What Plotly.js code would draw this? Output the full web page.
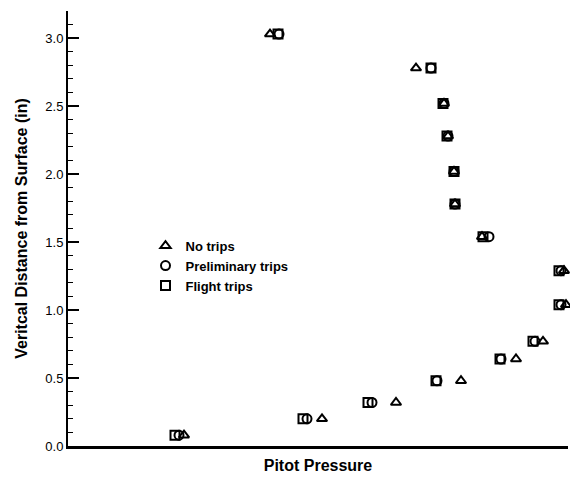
<!DOCTYPE html>
<html>
<head>
<meta charset="utf-8">
<script src="https://cdn.plot.ly/plotly-3.0.1.min.js"></script>
<style>html,body{margin:0;padding:0;background:#fff;}#chart{width:570px;height:479px;}</style>
</head>
<body>
<div id="chart"></div>
<script>
// Heights (in)
const heights = [0.08, 0.20, 0.32, 0.48, 0.64, 0.77, 1.04, 1.29, 1.54, 1.78, 2.02, 2.28, 2.52, 2.78, 3.03];
// Pitot pressure (arbitrary units)
const noTrips      = [2.32, 5.08, 6.56, 7.86, 8.96, 9.50, 9.96, 9.92, 8.28, 7.74, 7.72, 7.60, 7.52, 6.96, 4.04];
const prelimTrips  = [2.22, 4.78, 6.08, 7.38, 8.66, 9.34, 9.86, 9.86, 8.42, 7.74, 7.72, 7.60, 7.52, 7.26, 4.22];
const flightTrips  = [2.14, 4.70, 6.00, 7.36, 8.64, 9.30, 9.82, 9.82, 8.30, 7.74, 7.72, 7.58, 7.50, 7.26, 4.20];
const seriesNames = ['No trips', 'Preliminary trips', 'Flight trips'];
const yTickVals = [0.0, 0.5, 1.0, 1.5, 2.0, 2.5, 3.0];
const yTickText = ['0.0', '0.5', '1.0', '1.5', '2.0', '2.5', '3.0'];

const mk = (sym) => ({symbol: sym, size: 9, color: '#000', line: {color: '#000', width: 2}});
const traces = [
  {x: noTrips, y: heights, name: seriesNames[0], mode: 'markers', type: 'scatter', marker: mk('triangle-up-open'), cliponaxis: false},
  {x: prelimTrips, y: heights, name: seriesNames[1], mode: 'markers', type: 'scatter', marker: mk('circle-open'), cliponaxis: false},
  {x: flightTrips, y: heights, name: seriesNames[2], mode: 'markers', type: 'scatter', marker: mk('square-open'), cliponaxis: false}
];

const layout = {
  width: 570, height: 479,
  margin: {l: 68, r: 2, t: 11, b: 33},
  paper_bgcolor: '#fff', plot_bgcolor: '#fff',
  font: {family: 'Liberation Sans, Arial, sans-serif', color: '#000'},
  showlegend: true,
  legend: {x: 0.155, y: 0.495, xanchor: 'left', yanchor: 'top', bgcolor: 'rgba(0,0,0,0)',
           font: {size: 13, family: 'Liberation Sans, Arial, sans-serif', weight: 'bold'}, tracegroupgap: 0, itemwidth: 30},
  xaxis: {
    range: [0, 10], showgrid: false, zeroline: false, showticklabels: false, ticks: '',
    showline: true, linecolor: '#000', linewidth: 3, fixedrange: true,
    title: {text: '<b>Pitot Pressure</b>', font: {size: 16}, standoff: 12}
  },
  yaxis: {
    range: [0, 3.2], showgrid: false, zeroline: false,
    tickvals: yTickVals, ticktext: yTickText, ticks: 'inside', ticklen: 11, tickwidth: 2, tickcolor: '#000',
    tickfont: {size: 13},
    minor: {dtick: 0.1, ticks: 'inside', ticklen: 5, tickwidth: 1, tickcolor: '#000'},
    showline: true, linecolor: '#000', linewidth: 2, fixedrange: true,
    title: {text: '<b>Veritcal Distance from Surface (in)</b>', font: {size: 16}, standoff: 14}
  }
};
Plotly.newPlot('chart', traces, layout, {displayModeBar: false, staticPlot: true});
</script>
</body>
</html>
